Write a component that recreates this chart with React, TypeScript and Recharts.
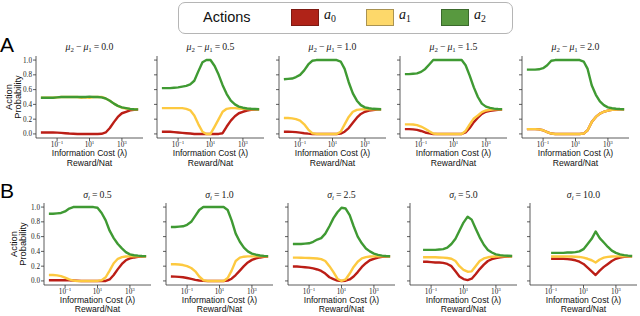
import React from 'react';
import { LineChart, Line, XAxis, YAxis } from 'recharts';

// log-spaced information cost values (reward/nat), 10^-2 ... 10^4
const X_VALUES = [0.01, 0.018, 0.032, 0.056, 0.1, 0.18, 0.32, 0.56, 1, 1.8, 3.2, 5.6, 10, 18, 32, 56, 100, 180, 320, 560, 1000, 1800, 3200, 5600, 10000];
const X_DOMAIN = [0.005, 20000];
const X_TICKS = [0.1, 10, 1000];
const X_TICK_EXPONENTS = ['−1', '1', '3'];
const Y_TICKS = [0, 0.2, 0.4, 0.6, 0.8, 1.0];
const ROW_A_LABELS = ['0.0', '0.5', '1.0', '1.5', '2.0'];
const ROW_B_LABELS = ['0.5', '1.0', '2.5', '5.0', '10.0'];
const ACTION_NAMES = ['0', '1', '2'];

// Row A : mu2 - mu1
const A1_a0 = [0.02, 0.02, 0.02, 0.02, 0.018, 0.015, 0.01, 0.005, 0.002, 0, 0, 0, 0, 0, 0, 0.002, 0.02, 0.08, 0.16, 0.23, 0.28, 0.3, 0.32, 0.327, 0.33];
const A1_a1 = [0.49, 0.49, 0.49, 0.49, 0.495, 0.5, 0.5, 0.5, 0.5, 0.5, 0.49, 0.495, 0.49, 0.5, 0.5, 0.5, 0.48, 0.45, 0.41, 0.38, 0.355, 0.345, 0.338, 0.335, 0.333];
const A1_a2 = [0.49, 0.49, 0.49, 0.49, 0.495, 0.5, 0.5, 0.5, 0.5, 0.5, 0.5, 0.5, 0.505, 0.5, 0.5, 0.495, 0.48, 0.45, 0.41, 0.38, 0.36, 0.35, 0.34, 0.335, 0.333];

const A2_a0 = [0.03, 0.03, 0.03, 0.025, 0.02, 0.015, 0.01, 0.005, 0, 0, 0, 0, 0, 0, 0, 0.01, 0.1, 0.18, 0.24, 0.28, 0.3, 0.315, 0.325, 0.33, 0.332];
const A2_a1 = [0.35, 0.35, 0.35, 0.35, 0.35, 0.35, 0.34, 0.32, 0.25, 0.13, 0.03, 0, 0, 0.1, 0.2, 0.3, 0.34, 0.35, 0.35, 0.345, 0.34, 0.337, 0.335, 0.333, 0.333];
const A2_a2 = [0.62, 0.62, 0.62, 0.625, 0.63, 0.64, 0.65, 0.67, 0.72, 0.85, 0.97, 1.0, 1.0, 0.92, 0.8, 0.66, 0.54, 0.45, 0.4, 0.37, 0.355, 0.345, 0.34, 0.337, 0.335];

const A3_a0 = [0.03, 0.03, 0.028, 0.025, 0.018, 0.01, 0.004, 0, 0, 0, 0, 0, 0, 0, 0.005, 0.03, 0.08, 0.15, 0.22, 0.27, 0.3, 0.315, 0.324, 0.329, 0.332];
const A3_a1 = [0.215, 0.215, 0.21, 0.2, 0.18, 0.13, 0.06, 0.01, 0, 0, 0, 0, 0, 0, 0.03, 0.13, 0.23, 0.3, 0.325, 0.332, 0.334, 0.334, 0.333, 0.333, 0.333];
const A3_a2 = [0.74, 0.745, 0.75, 0.77, 0.8, 0.86, 0.94, 0.99, 1.0, 1.0, 1.0, 1.0, 1.0, 1.0, 0.98, 0.88, 0.7, 0.55, 0.45, 0.39, 0.36, 0.348, 0.34, 0.337, 0.335];

const A4_a0 = [0.065, 0.065, 0.062, 0.055, 0.04, 0.02, 0.007, 0, 0, 0, 0, 0, 0, 0, 0, 0.02, 0.08, 0.16, 0.22, 0.27, 0.3, 0.312, 0.32, 0.326, 0.329];
const A4_a1 = [0.13, 0.13, 0.128, 0.12, 0.1, 0.07, 0.035, 0.005, 0, 0, 0, 0, 0, 0, 0, 0.04, 0.13, 0.21, 0.25, 0.295, 0.318, 0.328, 0.332, 0.333, 0.333];
const A4_a2 = [0.81, 0.81, 0.815, 0.82, 0.84, 0.88, 0.94, 1.0, 1.0, 1.0, 1.0, 1.0, 1.0, 1.0, 1.0, 0.93, 0.79, 0.63, 0.5, 0.41, 0.37, 0.352, 0.343, 0.338, 0.336];

const A5_a0 = [0.065, 0.065, 0.065, 0.062, 0.05, 0.025, 0.005, 0, 0, 0, 0, 0, 0, 0, 0.005, 0.05, 0.16, 0.23, 0.275, 0.3, 0.315, 0.325, 0.33, 0.332, 0.333];
const A5_a1 = [0.065, 0.065, 0.065, 0.062, 0.05, 0.025, 0.005, 0, 0, 0, 0, 0, 0, 0, 0.005, 0.05, 0.16, 0.23, 0.275, 0.3, 0.315, 0.325, 0.33, 0.332, 0.333];
const A5_a2 = [0.87, 0.87, 0.87, 0.875, 0.89, 0.93, 0.99, 1.0, 1.0, 1.0, 1.0, 1.0, 1.0, 1.0, 0.98, 0.88, 0.66, 0.53, 0.44, 0.39, 0.36, 0.348, 0.341, 0.337, 0.335];

// Row B : sigma_i
const B1_a0 = [0.01, 0.01, 0.01, 0.01, 0.01, 0.008, 0.005, 0.002, 0, 0, 0, 0, 0, 0, 0, 0.02, 0.08, 0.16, 0.23, 0.28, 0.305, 0.318, 0.326, 0.33, 0.332];
const B1_a1 = [0.08, 0.08, 0.075, 0.065, 0.045, 0.02, 0.005, 0, 0, 0, 0, 0, 0, 0.01, 0.05, 0.14, 0.24, 0.3, 0.322, 0.33, 0.332, 0.333, 0.333, 0.333, 0.333];
const B1_a2 = [0.91, 0.91, 0.915, 0.92, 0.94, 0.98, 1.0, 1.0, 1.0, 1.0, 1.0, 1.0, 0.99, 0.92, 0.82, 0.68, 0.58, 0.5, 0.44, 0.39, 0.36, 0.348, 0.342, 0.338, 0.336];

const B2_a0 = [0.06, 0.058, 0.055, 0.05, 0.04, 0.028, 0.015, 0.006, 0.001, 0, 0, 0, 0, 0, 0.005, 0.03, 0.08, 0.14, 0.2, 0.25, 0.285, 0.305, 0.318, 0.326, 0.33];
const B2_a1 = [0.225, 0.225, 0.222, 0.215, 0.2, 0.175, 0.13, 0.06, 0.01, 0, 0, 0, 0, 0, 0.04, 0.14, 0.27, 0.315, 0.328, 0.332, 0.333, 0.333, 0.333, 0.333, 0.333];
const B2_a2 = [0.73, 0.73, 0.735, 0.74, 0.76, 0.8, 0.88, 0.96, 1.0, 1.0, 1.0, 1.0, 1.0, 1.0, 0.96, 0.82, 0.64, 0.53, 0.45, 0.4, 0.37, 0.355, 0.345, 0.339, 0.336];

const B3_a0 = [0.195, 0.195, 0.19, 0.185, 0.18, 0.17, 0.155, 0.135, 0.1, 0.05, 0.025, 0.005, 0, 0.003, 0.02, 0.06, 0.12, 0.19, 0.24, 0.28, 0.3, 0.317, 0.325, 0.33, 0.332];
const B3_a1 = [0.315, 0.315, 0.313, 0.312, 0.31, 0.308, 0.304, 0.295, 0.27, 0.2, 0.12, 0.03, 0, 0.02, 0.1, 0.19, 0.26, 0.305, 0.322, 0.33, 0.332, 0.333, 0.333, 0.333, 0.333];
const B3_a2 = [0.5, 0.5, 0.5, 0.505, 0.51, 0.53, 0.56, 0.58, 0.64, 0.74, 0.85, 0.93, 0.99, 0.98, 0.89, 0.74, 0.6, 0.51, 0.44, 0.4, 0.37, 0.352, 0.343, 0.338, 0.335];

const B4_a0 = [null, null, 0.26, 0.26, 0.255, 0.25, 0.25, 0.245, 0.23, 0.2, 0.13, 0.06, 0.025, 0.012, 0.03, 0.09, 0.16, 0.22, 0.27, 0.295, 0.31, 0.32, 0.327, 0.33, 0.332];
const B4_a1 = [null, null, 0.32, 0.32, 0.32, 0.32, 0.318, 0.315, 0.31, 0.3, 0.27, 0.2, 0.15, 0.125, 0.13, 0.2, 0.27, 0.305, 0.32, 0.328, 0.331, 0.333, 0.333, 0.333, 0.333];
const B4_a2 = [null, null, 0.42, 0.42, 0.42, 0.42, 0.425, 0.43, 0.45, 0.5, 0.57, 0.68, 0.79, 0.87, 0.83, 0.71, 0.59, 0.49, 0.42, 0.385, 0.36, 0.35, 0.343, 0.34, 0.337];

const B5_a0 = [null, null, null, null, 0.3, 0.3, 0.3, 0.3, 0.295, 0.29, 0.28, 0.26, 0.23, 0.18, 0.13, 0.08, 0.14, 0.19, 0.23, 0.27, 0.3, 0.315, 0.325, 0.33, 0.332];
const B5_a1 = [null, null, null, null, 0.33, 0.33, 0.33, 0.33, 0.33, 0.33, 0.328, 0.325, 0.315, 0.3, 0.28, 0.25, 0.29, 0.315, 0.325, 0.33, 0.332, 0.333, 0.333, 0.333, 0.333];
const B5_a2 = [null, null, null, null, 0.38, 0.38, 0.38, 0.38, 0.385, 0.385, 0.39, 0.4, 0.43, 0.5, 0.57, 0.67, 0.58, 0.52, 0.46, 0.41, 0.38, 0.36, 0.35, 0.342, 0.338];

const RED = '#bb1e16';
const YELLOW = '#fdc940';
const GREEN = '#3f9a33';
const AXIS = '#333333';

const ROW_A_SERIES = [
  [A1_a0, A1_a1, A1_a2],
  [A2_a0, A2_a1, A2_a2],
  [A3_a0, A3_a1, A3_a2],
  [A4_a0, A4_a1, A4_a2],
  [A5_a0, A5_a1, A5_a2],
];
const ROW_B_SERIES = [
  [B1_a0, B1_a1, B1_a2],
  [B2_a0, B2_a1, B2_a2],
  [B3_a0, B3_a1, B3_a2],
  [B4_a0, B4_a1, B4_a2],
  [B5_a0, B5_a1, B5_a2],
];

const ROW_A_LEFT = [36, 157, 279, 400, 522];
const ROW_B_LEFT = [44, 166, 288, 410, 530];
const PW = 107;
const PH = 82;
const ROW_A_TOP = 56;
const ROW_B_TOP = 203;
const YAXIS_W = 30;
const XAXIS_H = 22;
const M_TOP = 2;
const M_RIGHT = 4;

const serif = '"Liberation Serif", "DejaVu Serif", serif';
const sans = '"Liberation Sans", Arial, sans-serif';

function XTick(props: any) {
  const { x, y, payload } = props;
  const i = X_TICKS.indexOf(payload.value);
  return (
    <text x={x} y={y + 4} textAnchor="middle" fontFamily={serif} fontSize={7.2} fill="#222">
      10<tspan dy={-3} fontSize={5}>{X_TICK_EXPONENTS[i]}</tspan>
    </text>
  );
}

function YTick(props: any) {
  const { x, y, payload } = props;
  return (
    <text x={x + 1} y={y + 2.5} textAnchor="end" fontFamily={serif} fontSize={7.2} fill="#222">
      {payload.value.toFixed(1)}
    </text>
  );
}

function EmptyTick() {
  return <g />;
}

function Panel({ left, top, series, showY }: { left: number; top: number; series: (number | null)[][]; showY: boolean }) {
  const data = X_VALUES.map((x, i) => ({ x, a0: series[0][i], a1: series[1][i], a2: series[2][i] }));
  const w = YAXIS_W + PW + M_RIGHT;
  const h = M_TOP + PH + XAXIS_H;
  return (
    <div style={{ position: 'absolute', left: left - YAXIS_W, top: top - M_TOP }}>
      <LineChart width={w} height={h} data={data} margin={{ top: M_TOP, right: M_RIGHT, left: 0, bottom: 0 }}>
        <XAxis
          dataKey="x"
          type="number"
          scale="log"
          domain={X_DOMAIN}
          allowDataOverflow
          ticks={X_TICKS}
          tick={<XTick />}
          tickSize={3}
          height={XAXIS_H}
          axisLine={{ stroke: AXIS, strokeWidth: 0.8 }}
          tickLine={{ stroke: AXIS, strokeWidth: 0.8 }}
          interval={0}
        />
        <YAxis
          type="number"
          domain={[-0.055, 1.055]}
          allowDataOverflow
          ticks={Y_TICKS}
          tick={showY ? <YTick /> : <EmptyTick />}
          tickSize={3}
          width={YAXIS_W}
          axisLine={{ stroke: AXIS, strokeWidth: 0.8 }}
          tickLine={{ stroke: AXIS, strokeWidth: 0.8 }}
          interval={0}
        />
        <Line dataKey="a0" stroke={RED} strokeWidth={2.4} dot={false} isAnimationActive={false} strokeLinejoin="round" />
        <Line dataKey="a1" stroke={YELLOW} strokeWidth={2.4} dot={false} isAnimationActive={false} strokeLinejoin="round" />
        <Line dataKey="a2" stroke={GREEN} strokeWidth={2.4} dot={false} isAnimationActive={false} strokeLinejoin="round" />
      </LineChart>
    </div>
  );
}

function Sub({ children }: { children: React.ReactNode }) {
  return <span style={{ fontSize: '0.7em', position: 'relative', top: '0.28em' }}>{children}</span>;
}

function TitleA({ value }: { value: string }) {
  return (
    <span>
      <i>μ</i><Sub>2</Sub>{'\u2009'}−{'\u2009'}<i>μ</i><Sub>1</Sub>{'\u2009'}={'\u2009'}{value}
    </span>
  );
}

function TitleB({ value }: { value: string }) {
  return (
    <span>
      <i>σ</i><Sub><i>i</i></Sub>{'\u2009'}={'\u2009'}{value}
    </span>
  );
}

function YLabel({ centerX, centerY }: { centerX: number; centerY: number }) {
  return (
    <div
      style={{
        position: 'absolute',
        left: centerX - 50,
        top: centerY - 9,
        width: 100,
        height: 18,
        lineHeight: '9px',
        fontFamily: sans,
        fontSize: 9.3,
        textAlign: 'center',
        transform: 'rotate(-90deg)',
        color: '#111',
      }}
    >
      Action
      <br />
      Probability
    </div>
  );
}

const XLABEL_LINE = 9.8;
function XLabelLine({ left, top, text }: { left: number; top: number; text: string }) {
  return (
    <div
      style={{
        position: 'absolute',
        left: left - 20,
        width: PW + 40,
        top,
        height: XLABEL_LINE,
        lineHeight: `${XLABEL_LINE}px`,
        fontFamily: sans,
        fontSize: 8.6,
        textAlign: 'center',
        color: '#111',
        whiteSpace: 'nowrap',
      }}
    >
      {text}
    </div>
  );
}

function XLabel({ left, top }: { left: number; top: number }) {
  return (
    <>
      <XLabelLine left={left} top={top} text="Information Cost (λ)" />
      <XLabelLine left={left} top={top + XLABEL_LINE} text="Reward/Nat" />
    </>
  );
}

function PanelTitle({ left, top, children }: { left: number; top: number; children: React.ReactNode }) {
  return (
    <div
      style={{
        position: 'absolute',
        left: left - 10,
        width: PW + 20,
        top,
        textAlign: 'center',
        fontFamily: serif,
        fontSize: 9.8,
        lineHeight: '10px',
        color: '#222',
        whiteSpace: 'nowrap',
      }}
    >
      {children}
    </div>
  );
}

const SWATCH_COLORS = [
  { fill: '#b02318', border: '#7d1a12' },
  { fill: '#fdd86a', border: '#a99352' },
  { fill: '#58993f', border: '#3b6a2c' },
];
const SWATCH_LEFT = [291, 366, 441];

export default function App() {
  return (
    <div style={{ position: 'absolute', left: 0, top: 0, width: 640, height: 316, background: '#fff', overflow: 'hidden' }}>
      {/* Legend */}
      <div
        style={{
          position: 'absolute',
          left: 178,
          top: 2,
          width: 333,
          height: 30,
          border: '1px solid #b5b5b5',
          borderRadius: 7,
        }}
      />
      <div style={{ position: 'absolute', left: 203, top: 8, fontFamily: sans, fontSize: 14.5, lineHeight: '18px', color: '#111' }}>
        Actions
      </div>
      {ACTION_NAMES.map((n, i) => (
        <React.Fragment key={n}>
          <div
            style={{
              position: 'absolute',
              left: SWATCH_LEFT[i],
              top: 9,
              width: 28,
              height: 17,
              background: SWATCH_COLORS[i].fill,
              border: `1px solid ${SWATCH_COLORS[i].border}`,
              boxSizing: 'border-box',
            }}
          />
          <div style={{ position: 'absolute', left: SWATCH_LEFT[i] + 33, top: 6, fontFamily: serif, fontSize: 14, lineHeight: '18px', color: '#111' }}>
            <i>a</i>
            <Sub>{n}</Sub>
          </div>
        </React.Fragment>
      ))}

      {/* Row letters */}
      <div style={{ position: 'absolute', left: 0, top: 33, fontFamily: sans, fontSize: 21, lineHeight: '24px', color: '#000' }}>A</div>
      <div style={{ position: 'absolute', left: 0, top: 179, fontFamily: sans, fontSize: 21, lineHeight: '24px', color: '#000' }}>B</div>

      <YLabel centerX={14} centerY={ROW_A_TOP + PH / 2} />
      <YLabel centerX={19} centerY={ROW_B_TOP + PH / 2} />

      {ROW_A_LEFT.map((left, i) => (
        <React.Fragment key={'a' + i}>
          <PanelTitle left={left} top={ROW_A_TOP - 14}>
            <TitleA value={ROW_A_LABELS[i]} />
          </PanelTitle>
          <Panel left={left} top={ROW_A_TOP} series={ROW_A_SERIES[i]} showY={i === 0} />
          <XLabel left={left} top={ROW_A_TOP + PH + 11} />
        </React.Fragment>
      ))}

      {ROW_B_LEFT.map((left, i) => (
        <React.Fragment key={'b' + i}>
          <PanelTitle left={left} top={ROW_B_TOP - 13}>
            <TitleB value={ROW_B_LABELS[i]} />
          </PanelTitle>
          <Panel left={left} top={ROW_B_TOP} series={ROW_B_SERIES[i]} showY={i === 0} />
          <XLabel left={left} top={ROW_B_TOP + PH + 10.5} />
        </React.Fragment>
      ))}
    </div>
  );
}
